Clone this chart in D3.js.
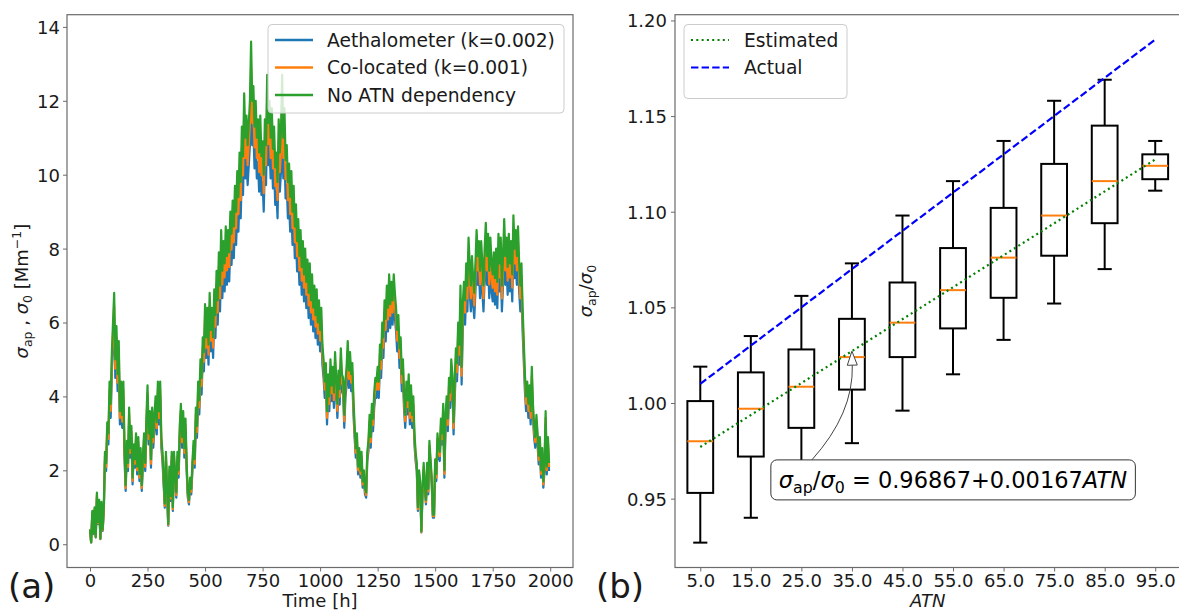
<!DOCTYPE html>
<html><head><meta charset="utf-8">
<script src="https://cdn.jsdelivr.net/npm/d3@7"></script>
<style>
body{margin:0;background:#fff;}
svg{display:block;font-family:"DejaVu Sans",sans-serif;}
</style>
</head><body>
<svg id="chart" width="1179" height="610"></svg>
<script>
// ---------- Panel (a): time series, one value every 5 h ----------
const timeStepHours = 5;
const noAtnDependency = [
0.4,0.05,0.9,0.3,1.0,0.2,1.4,0.6,1.2,0.15, 1.15,0.4,1.0,2.5,2.2,3.3,3.0,4.4,3.8,5.2,
6.0,6.8,5.0,5.9,4.6,5.5,3.6,4.4,3.5,4.4, 2.6,1.6,2.8,2.2,3.7,2.6,3.2,1.8,2.7,2.3,
3.0,2.1,2.9,1.9,2.6,1.6,2.4,3.0,2.2,3.4, 4.3,3.0,3.6,2.3,3.7,2.9,3.5,4.0,3.3,4.4,
3.6,4.4,2.9,2.5,1.8,1.1,2.5,1.5,0.55,2.1, 1.3,2.5,1.0,2.5,1.9,1.4,2.5,2.0,3.2,3.8,
2.9,3.6,2.6,3.4,2.2,1.4,1.2,1.8,1.5,2.2, 2.8,2.3,3.7,3.2,4.4,3.9,5.0,4.5,5.6,5.2,
6.5,5.6,6.4,5.4,6.8,5.8,6.4,5.6,6.9,6.2, 7.4,6.6,7.9,7.0,8.5,7.4,8.2,7.6,8.6,7.8,
8.5,7.9,9.0,8.4,9.3,8.6,9.7,9.0,10.1,9.4, 10.6,9.8,11.3,10.5,12.2,11.0,11.6,10.8,11.4,12.0,
13.6,12.0,12.4,11.3,12.0,11.0,11.5,10.6,11.6,10.5, 10.9,10.0,11.5,10.8,12.7,11.4,12.0,11.0,11.8,10.7,
11.3,10.2,10.6,9.8,11.5,10.6,11.2,12.7,11.0,11.8, 10.4,10.8,9.8,10.3,9.4,10.1,9.0,9.7,8.6,9.2,
8.2,8.8,7.8,8.5,7.5,8.2,7.3,8.0,7.1,7.7, 6.8,7.6,6.6,7.3,6.4,7.0,6.2,6.9,6.0,6.6,
5.8,6.4,5.4,5.0,4.4,4.9,3.6,4.6,4.0,5.0, 4.3,4.8,4.1,5.2,4.5,3.8,4.7,4.2,5.3,4.6,
4.5,3.5,4.4,4.8,5.5,4.7,5.2,4.6,4.9,3.9, 3.2,2.6,3.0,2.1,2.6,2.0,2.5,1.7,2.0,1.5,
1.4,2.5,2.8,3.5,2.9,3.8,3.4,4.1,4.5,4.4, 4.8,4.4,5.4,5.0,6.0,5.6,6.6,6.1,7.0,6.4,
7.3,6.5,7.1,6.6,7.3,6.8,6.4,5.8,6.2,5.3, 5.6,4.6,5.0,4.0,3.5,4.4,3.9,4.6,3.6,4.3,
3.5,4.0,3.0,2.5,2.2,1.0,2.0,1.7,0.35,1.5, 2.2,1.6,1.2,2.2,1.5,2.8,2.3,1.8,0.8,0.8,
2.3,1.9,3.0,2.6,2.5,3.4,3.0,3.8,2.0,3.5, 4.0,3.4,4.5,4.1,5.0,4.6,3.3,4.4,5.3,4.9,
6.0,5.4,7.0,4.8,6.5,7.1,6.6,7.6,7.0,8.3, 7.6,7.0,7.8,7.2,6.8,7.6,8.5,7.8,8.2,7.4,
8.2,7.6,7.0,8.0,8.7,7.8,8.4,7.4,8.3,7.6, 7.3,7.9,7.2,8.0,7.1,8.4,7.6,8.3,7.0,7.8,
8.8,7.8,8.3,7.5,8.4,7.6,8.2,7.3,8.9,8.0, 8.5,7.8,8.6,7.6,7.0,7.6,6.4,5.5,4.6,4.0,
4.4,3.8,4.3,3.6,4.8,3.8,3.2,2.9,3.5,3.0, 2.4,2.9,2.0,2.6,1.7,2.2,3.6,2.1,2.9,2.2];
const coLocated = [
0.4,0.05,0.85,0.3,0.95,0.2,1.33,0.57,1.14,0.14, 1.09,0.38,0.95,2.38,2.09,3.14,2.85,4.18,3.61,4.94,
5.7,6.46,4.75,5.6,4.37,5.22,3.42,4.18,3.32,4.18, 2.47,1.52,2.66,2.09,3.52,2.47,3.04,1.71,2.56,2.18,
2.85,2.0,2.76,1.8,2.47,1.52,2.28,2.85,2.09,3.23, 4.08,2.85,3.42,2.18,3.52,2.76,3.32,3.8,3.14,4.18,
3.42,4.18,2.76,2.38,1.71,1.04,2.38,1.42,0.52,2.0, 1.24,2.38,0.95,2.38,1.8,1.33,2.38,1.9,3.04,3.61,
2.76,3.42,2.47,3.23,2.09,1.33,1.14,1.71,1.42,2.09, 2.66,2.18,3.52,3.04,4.18,3.7,4.75,4.28,5.32,4.94,
6.18,5.32,6.08,5.13,6.46,5.51,6.08,5.32,6.56,5.89, 7.03,6.27,7.5,6.65,8.08,7.03,7.79,7.22,8.17,7.41,
8.08,7.5,8.55,7.98,8.84,8.17,9.22,8.55,9.6,8.93, 10.07,9.31,10.74,9.98,11.59,10.45,11.02,10.26,10.83,11.4,
12.92,11.4,11.78,10.74,11.4,10.45,10.93,10.07,11.02,9.98, 10.36,9.5,10.93,10.26,12.07,10.83,11.4,10.45,11.21,10.17,
10.74,9.69,10.07,9.31,10.93,10.07,10.64,12.07,10.45,11.21, 9.88,10.26,9.31,9.79,8.93,9.6,8.55,9.22,8.17,8.74,
7.79,8.36,7.41,8.08,7.13,7.79,6.94,7.6,6.75,7.32, 6.46,7.22,6.27,6.94,6.08,6.65,5.89,6.56,5.7,6.27,
5.51,6.08,5.13,4.75,4.18,4.66,3.42,4.37,3.8,4.75, 4.09,4.56,3.9,4.94,4.28,3.61,4.47,3.99,5.04,4.37,
4.28,3.33,4.18,4.56,5.23,4.47,4.94,4.37,4.66,3.71, 3.04,2.47,2.85,2.0,2.47,1.9,2.38,1.62,1.9,1.43,
1.33,2.38,2.66,3.33,2.76,3.61,3.23,3.9,4.28,4.18, 4.56,4.18,5.13,4.75,5.7,5.32,6.27,5.8,6.65,6.08,
6.94,6.18,6.75,6.27,6.94,6.46,6.08,5.51,5.89,5.04, 5.32,4.37,4.75,3.8,3.33,4.18,3.71,4.37,3.42,4.09,
3.33,3.8,2.85,2.38,2.09,0.95,1.9,1.62,0.33,1.43, 2.09,1.52,1.14,2.09,1.43,2.66,2.18,1.71,0.76,0.76,
2.18,1.8,2.85,2.47,2.38,3.23,2.85,3.61,1.9,3.33, 3.8,3.23,4.28,3.9,4.75,4.37,3.14,4.18,5.04,4.66,
5.7,5.13,6.65,4.56,6.18,6.75,6.27,7.22,6.65,7.89, 7.22,6.65,7.41,6.84,6.46,7.22,8.08,7.41,7.79,7.03,
7.79,7.22,6.65,7.6,8.27,7.41,7.98,7.03,7.89,7.22, 6.94,7.51,6.84,7.6,6.75,7.98,7.22,7.89,6.65,7.41,
8.36,7.41,7.89,7.13,7.98,7.22,7.79,6.94,8.46,7.6, 8.08,7.41,8.17,7.22,6.65,7.22,6.08,5.23,4.37,3.8,
4.18,3.61,4.09,3.42,4.56,3.61,3.04,2.76,3.33,2.85, 2.28,2.76,1.9,2.47,1.62,2.09,3.42,2.0,2.76,2.09];
const aethalometer = [
0.36,0.05,0.81,0.27,0.9,0.18,1.26,0.54,1.08,0.14, 1.04,0.36,0.9,2.25,1.98,2.97,2.7,3.96,3.42,4.68,
5.4,6.12,4.5,5.31,4.14,4.95,3.24,3.96,3.15,3.96, 2.34,1.44,2.52,1.98,3.33,2.34,2.88,1.62,2.43,2.07,
2.7,1.89,2.61,1.71,2.34,1.44,2.16,2.7,1.98,3.06, 3.87,2.7,3.24,2.07,3.33,2.61,3.15,3.6,2.97,3.96,
3.24,3.96,2.61,2.25,1.62,0.99,2.25,1.35,0.5,1.89, 1.17,2.25,0.9,2.25,1.71,1.26,2.25,1.8,2.88,3.42,
2.61,3.24,2.34,3.06,1.98,1.26,1.08,1.62,1.35,1.98, 2.52,2.07,3.33,2.88,3.96,3.51,4.5,4.05,5.04,4.68,
5.85,5.04,5.76,4.86,6.12,5.22,5.76,5.04,6.21,5.58, 6.66,5.94,7.11,6.3,7.65,6.66,7.38,6.84,7.74,7.02,
7.65,7.11,8.1,7.56,8.37,7.74,8.73,8.1,9.09,8.46, 9.54,8.82,10.17,9.45,10.98,9.9,10.44,9.72,10.26,10.8,
12.24,10.8,11.16,10.17,10.8,9.9,10.35,9.54,10.44,9.45, 9.81,9.0,10.35,9.72,11.43,10.26,10.8,9.9,10.62,9.63,
10.17,9.18,9.54,8.82,10.35,9.54,10.08,11.43,9.9,10.62, 9.36,9.72,8.82,9.27,8.46,9.09,8.1,8.73,7.74,8.28,
7.38,7.92,7.02,7.65,6.75,7.38,6.57,7.2,6.39,6.93, 6.12,6.84,5.94,6.57,5.76,6.3,5.58,6.21,5.4,5.94,
5.22,5.76,4.86,4.5,3.96,4.41,3.24,4.14,3.6,4.5, 3.87,4.32,3.69,4.68,4.05,3.42,4.23,3.78,4.77,4.14,
4.05,3.15,3.96,4.32,4.95,4.23,4.68,4.14,4.41,3.51, 2.88,2.34,2.7,1.89,2.34,1.8,2.25,1.53,1.8,1.35,
1.26,2.25,2.52,3.15,2.61,3.42,3.06,3.69,4.05,3.96, 4.32,3.96,4.86,4.5,5.4,5.04,5.94,5.49,6.3,5.76,
6.57,5.85,6.39,5.94,6.57,6.12,5.76,5.22,5.58,4.77, 5.04,4.14,4.5,3.6,3.15,3.96,3.51,4.14,3.24,3.87,
3.15,3.6,2.7,2.25,1.98,0.9,1.8,1.53,0.32,1.35, 1.98,1.44,1.08,1.98,1.35,2.52,2.07,1.62,0.72,0.72,
2.07,1.71,2.7,2.34,2.25,3.06,2.7,3.42,1.8,3.15, 3.6,3.06,4.05,3.69,4.5,4.14,2.97,3.96,4.77,4.41,
5.4,4.86,6.3,4.32,5.85,6.39,5.94,6.84,6.3,7.47, 6.84,6.3,7.02,6.48,6.12,6.84,7.65,7.02,7.38,6.66,
7.38,6.84,6.3,7.2,7.83,7.02,7.56,6.66,7.47,6.84, 6.57,7.11,6.48,7.2,6.39,7.56,6.84,7.47,6.3,7.02,
7.92,7.02,7.47,6.75,7.56,6.84,7.38,6.57,8.01,7.2, 7.65,7.02,7.74,6.84,6.3,6.84,5.76,4.95,4.14,3.6,
3.96,3.42,3.87,3.24,4.32,3.42,2.88,2.61,3.15,2.7, 2.16,2.61,1.8,2.34,1.53,1.98,3.24,1.89,2.61,1.98];
const seriesNames = ["Aethalometer (k=0.002)", "Co-located (k=0.001)", "No ATN dependency"];
const timeTicks = [0, 250, 500, 750, 1000, 1250, 1500, 1750, 2000];
const sigmaTicks = [0, 2, 4, 6, 8, 10, 12, 14];

// ---------- Panel (b): box plots of sigma_ap/sigma_0 per ATN bin ----------
const atnBins = [5, 15, 25, 35, 45, 55, 65, 75, 85, 95];
const atnLabels = ["5.0","15.0","25.0","35.0","45.0","55.0","65.0","75.0","85.0","95.0"];
const whiskerLow  = [0.927, 0.940, 0.962, 0.979, 0.996, 1.015, 1.033, 1.052, 1.070, 1.111];
const quartile1   = [0.953, 0.972, 0.987, 1.007, 1.024, 1.039, 1.055, 1.077, 1.094, 1.117];
const medians     = [0.980, 0.997, 1.0085, 1.024, 1.042, 1.059, 1.076, 1.098, 1.116, 1.124];
const quartile3   = [1.001, 1.016, 1.028, 1.044, 1.063, 1.081, 1.102, 1.125, 1.145, 1.130];
const whiskerHigh = [1.019, 1.035, 1.056, 1.073, 1.098, 1.116, 1.137, 1.158, 1.169, 1.137];
const ratioTicks = [0.95, 1.00, 1.05, 1.10, 1.15, 1.20];
const lineAtn = [5, 95];
const estimatedLine = [0.97702, 1.12732];
const actualLine = [1.01, 1.19];
const fitLabel = {intercept: "0.96867", slope: "0.00167"};
const annotationPoint = {atn: 35, value: 1.0271};
const annotationTextAt = {atn: 55, value: 0.9598};

// ---------- drawing ----------
const svg = d3.select("#chart");
const C = {blue:"#1f77b4", orange:"#ff7f0e", green:"#2ca02c"};
const spine = "#6b6b6b";
const FS = 18;
const LFS = 18.7;

// Panel (a)
const A = {left:67, right:573, top:14.7, bottom:567.5};
const xA = d3.scaleLinear().domain([-99.95, 2098.95]).range([A.left, A.right]);
const yA = d3.scaleLinear().domain([-0.63, 14.33]).range([A.bottom, A.top]);
const gA = svg.append("g");
svg.append("clipPath").attr("id","clipA").append("rect")
  .attr("x",A.left).attr("y",A.top).attr("width",A.right-A.left).attr("height",A.bottom-A.top);
const lineGen = d3.line().x((d,i)=>xA(i*timeStepHours)).y(d=>yA(d));
[[aethalometer,C.blue],[coLocated,C.orange],[noAtnDependency,C.green]].forEach(([s,c])=>{
  gA.append("path").datum(s).attr("d",lineGen).attr("fill","none").attr("stroke",c)
    .attr("stroke-width",2.2).attr("stroke-linejoin","round").attr("clip-path","url(#clipA)");
});
function styleAxis(g){
  g.selectAll(".domain").remove();
  g.selectAll(".tick line").attr("stroke",spine).attr("stroke-width",1);
  g.selectAll(".tick text").attr("font-size",FS).attr("fill","#1a1a1a").attr("font-family","DejaVu Sans");
}
const axBA = svg.append("g").attr("transform",`translate(0,${A.bottom})`)
  .call(d3.axisBottom(xA).tickValues(timeTicks).tickFormat(d3.format("d")).tickSize(4).tickPadding(3));
styleAxis(axBA);
const axLA = svg.append("g").attr("transform",`translate(${A.left},0)`)
  .call(d3.axisLeft(yA).tickValues(sigmaTicks).tickFormat(d3.format("d")).tickSize(4).tickPadding(3));
styleAxis(axLA);
axLA.selectAll(".tick text").attr("dy","0.36em");
svg.append("rect").attr("x",A.left).attr("y",A.top).attr("width",A.right-A.left).attr("height",A.bottom-A.top)
  .attr("fill","none").attr("stroke",spine).attr("stroke-width",1.2);

// legend (a)
const legA = svg.append("g");
legA.append("rect").attr("x",268).attr("y",24.5).attr("width",296).attr("height",88.5).attr("rx",4)
  .attr("fill","rgba(255,255,255,0.8)").attr("stroke","#cccccc").attr("stroke-width",1);
[C.blue,C.orange,C.green].forEach((c,i)=>{
  const y = 40 + i*27.5;
  legA.append("line").attr("x1",275).attr("x2",313).attr("y1",y).attr("y2",y).attr("stroke",c).attr("stroke-width",2.4);
  legA.append("text").attr("x",327).attr("y",y+6.5).attr("font-size",LFS).attr("fill","#1a1a1a").text(seriesNames[i]);
});

// axis labels (a)
svg.append("text").attr("x",(A.left+A.right)/2).attr("y",607).attr("text-anchor","middle").attr("font-size",FS).attr("fill","#1a1a1a").text("Time [h]");
const ylA = svg.append("text").attr("transform",`translate(28,${(A.top+A.bottom)/2}) rotate(-90)`)
  .attr("text-anchor","middle").attr("font-size",FS).attr("fill","#1a1a1a");
ylA.append("tspan").attr("font-style","italic").text("σ");
ylA.append("tspan").attr("font-size",12.5).attr("dy",4).text("ap");
ylA.append("tspan").attr("dy",-4).text(" , ");
ylA.append("tspan").attr("font-style","italic").text("σ");
ylA.append("tspan").attr("font-size",12.5).attr("dy",4).text("0");
ylA.append("tspan").attr("dy",-4).text(" [Mm");
ylA.append("tspan").attr("font-size",12.5).attr("dy",-7).text("−1");
ylA.append("tspan").attr("dy",7).text("]");
svg.append("text").attr("x",8).attr("y",598).attr("font-size",34).attr("fill","#1a1a1a").text("(a)");

// Panel (b)
const B = {left:675, right:1180.5, top:14.7, bottom:567.5};
const xB = d3.scaleLinear().domain([0, 100]).range([B.left, B.right]);
const yB = d3.scaleLinear().domain([0.914, 1.203]).range([B.bottom, B.top]);
const gB = svg.append("g");
const boxHalf = 2.55, capHalf = 1.4;
atnBins.forEach((a,i)=>{
  const x = xB(a);
  const g = gB.append("g").attr("stroke","#000").attr("stroke-width",2).attr("fill","none");
  g.append("line").attr("x1",x).attr("x2",x).attr("y1",yB(whiskerLow[i])).attr("y2",yB(quartile1[i]));
  g.append("line").attr("x1",x).attr("x2",x).attr("y1",yB(quartile3[i])).attr("y2",yB(whiskerHigh[i]));
  g.append("line").attr("x1",xB(a-capHalf)).attr("x2",xB(a+capHalf)).attr("y1",yB(whiskerLow[i])).attr("y2",yB(whiskerLow[i]));
  g.append("line").attr("x1",xB(a-capHalf)).attr("x2",xB(a+capHalf)).attr("y1",yB(whiskerHigh[i])).attr("y2",yB(whiskerHigh[i]));
  g.append("rect").attr("x",xB(a-boxHalf)).attr("width",xB(a+boxHalf)-xB(a-boxHalf))
    .attr("y",yB(quartile3[i])).attr("height",yB(quartile1[i])-yB(quartile3[i]));
  g.append("line").attr("x1",xB(a-boxHalf)).attr("x2",xB(a+boxHalf)).attr("y1",yB(medians[i])).attr("y2",yB(medians[i]))
    .attr("stroke",C.orange);
});
const lg2 = d3.line().x((d,i)=>xB(lineAtn[i])).y(d=>yB(d));
gB.append("path").datum(estimatedLine).attr("d",lg2).attr("stroke","#008000").attr("stroke-width",2.2)
  .attr("stroke-dasharray","2,3.3").attr("fill","none");
gB.append("path").datum(actualLine).attr("d",lg2).attr("stroke","#0000ff").attr("stroke-width",2.2)
  .attr("stroke-dasharray","7.4,3.2").attr("fill","none");

const axBB = svg.append("g").attr("transform",`translate(0,${B.bottom})`)
  .call(d3.axisBottom(xB).tickValues(atnBins).tickFormat((d,i)=>atnLabels[i]).tickSize(4).tickPadding(3));
styleAxis(axBB);
const axLB = svg.append("g").attr("transform",`translate(${B.left},0)`)
  .call(d3.axisLeft(yB).tickValues(ratioTicks).tickFormat(d3.format(".2f")).tickSize(4).tickPadding(4));
styleAxis(axLB);
axLB.selectAll(".tick text").attr("dy","0.36em");
svg.append("rect").attr("x",B.left).attr("y",B.top).attr("width",B.right-B.left).attr("height",B.bottom-B.top)
  .attr("fill","none").attr("stroke",spine).attr("stroke-width",1.2);

// annotation
const ann = svg.append("g");
const tx = xB(annotationTextAt.atn), ty = yB(annotationTextAt.value);
const at = ann.append("text").attr("x",tx).attr("y",ty+8).attr("text-anchor","middle").attr("font-size",22.5).attr("fill","#000");
at.append("tspan").attr("font-style","italic").text("σ");
at.append("tspan").attr("font-size",15.8).attr("dy",5).text("ap");
at.append("tspan").attr("dy",-5).text("/");
at.append("tspan").attr("font-style","italic").text("σ");
at.append("tspan").attr("font-size",15.8).attr("dy",5).text("0");
at.append("tspan").attr("dy",-5).text(" = " + fitLabel.intercept + "+" + fitLabel.slope);
at.append("tspan").attr("font-style","italic").text("ATN");
const bb = at.node().getBBox();
const bx0 = bb.x-8, by0 = ty-20, bw = bb.width+16, bh = 40;
ann.insert("rect","text").attr("x",bx0).attr("y",by0).attr("width",bw).attr("height",bh).attr("rx",6)
  .attr("fill","#fff").attr("stroke","#333").attr("stroke-width",1);
// arrow
const hx = xB(annotationPoint.atn), hy = yB(annotationPoint.value);
const tX = bx0+41, tY = by0;
const mx=(tX+hx)/2, my=(tY+hy)/2, dx=hx-tX, dy=hy-tY;
const cx = mx + 0.2*(-dy), cy = my + 0.2*(dx);
const ux = (hx-cx), uy=(hy-cy), ul=Math.hypot(ux,uy), nx=ux/ul, ny=uy/ul;
const headL=14, headW=5;
const bxh = hx-nx*headL, byh = hy-ny*headL;
ann.append("path").attr("d",`M${tX},${tY} Q${cx},${cy} ${bxh},${byh}`).attr("fill","none").attr("stroke","#444").attr("stroke-width",1);
ann.append("path").attr("d",`M${hx},${hy} L${bxh-ny*headW},${byh+nx*headW} L${bxh+ny*headW},${byh-nx*headW} Z`)
  .attr("fill","#fff").attr("stroke","#444").attr("stroke-width",1);

// legend (b)
const legB = svg.append("g");
legB.append("rect").attr("x",684).attr("y",24.5).attr("width",163).attr("height",74).attr("rx",4)
  .attr("fill","rgba(255,255,255,0.8)").attr("stroke","#cccccc").attr("stroke-width",1);
legB.append("line").attr("x1",691).attr("x2",729).attr("y1",40).attr("y2",40).attr("stroke","#008000").attr("stroke-width",2.2).attr("stroke-dasharray","2,3.3");
legB.append("line").attr("x1",691).attr("x2",729).attr("y1",67.5).attr("y2",67.5).attr("stroke","#0000ff").attr("stroke-width",2.2).attr("stroke-dasharray","7.4,3.2");
legB.append("text").attr("x",744).attr("y",46.5).attr("font-size",LFS).attr("fill","#1a1a1a").text("Estimated");
legB.append("text").attr("x",744).attr("y",74).attr("font-size",LFS).attr("fill","#1a1a1a").text("Actual");

// axis labels (b)
svg.append("text").attr("x",(B.left+B.right)/2).attr("y",607).attr("text-anchor","middle").attr("font-size",FS)
  .attr("font-style","italic").attr("fill","#1a1a1a").text("ATN");
const ylB = svg.append("text").attr("transform",`translate(592,${(B.top+B.bottom)/2}) rotate(-90)`)
  .attr("text-anchor","middle").attr("font-size",FS).attr("fill","#1a1a1a");
ylB.append("tspan").attr("font-style","italic").text("σ");
ylB.append("tspan").attr("font-size",12.5).attr("dy",4).text("ap");
ylB.append("tspan").attr("dy",-4).text("/");
ylB.append("tspan").attr("font-style","italic").text("σ");
ylB.append("tspan").attr("font-size",12.5).attr("dy",4).text("0");
svg.append("text").attr("x",596).attr("y",598).attr("font-size",34).attr("fill","#1a1a1a").text("(b)");
</script>
</body></html>
